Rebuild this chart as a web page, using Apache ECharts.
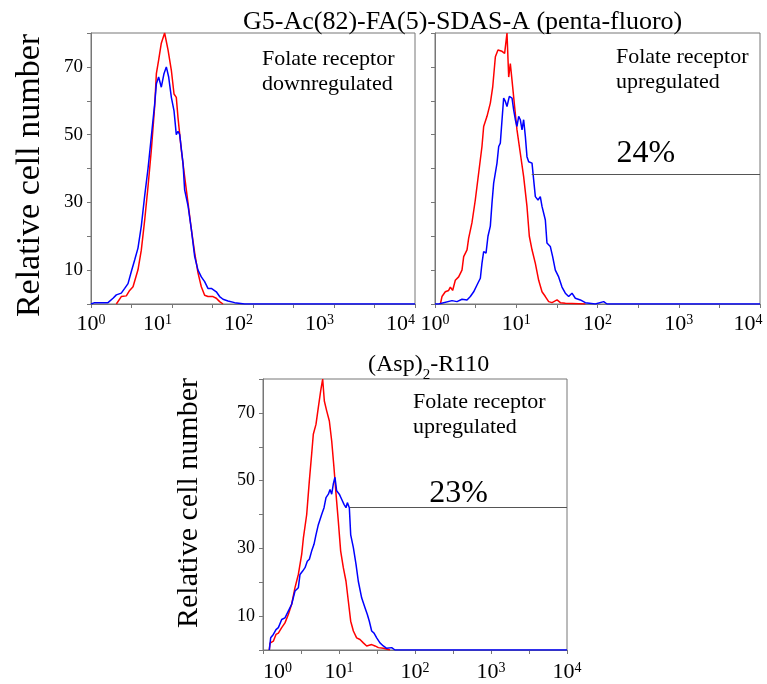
<!DOCTYPE html>
<html>
<head>
<meta charset="utf-8">
<title>Flow cytometry histograms</title>
<script src="https://cdn.jsdelivr.net/npm/echarts@6/dist/echarts.min.js"></script>
<style>
  html, body { margin: 0; padding: 0; background: #fff; }
  #chart { width: 767px; height: 684px; }
</style>
</head>
<body>
<div id="chart"></div>
<script>
// Histograms of log10 fluorescence intensity (x, decades) versus relative cell number (y).
// Red: control cells, blue: cells treated with the conjugate.

// Axis ticks
const decadeTicks = [0, 1, 2, 3, 4];
const countTickLabels = [10, 30, 50, 70];

// Panel 1: G5-Ac(82)-FA(5)-SDAS-A, folate receptor downregulated
const p1RedX = [0.313,0.374,0.436,0.477,0.519,0.580,0.621,0.663,0.704,0.745,0.786,0.807,0.835,0.868,0.909,0.930,0.951,0.992,1.025,1.053,1.074,1.115,1.156,1.198,1.239,1.280,1.321,1.362,1.403,1.444,1.506,1.547,1.588,1.630];
const p1RedY = [0,2.2,2.4,4,5.1,10.1,15.9,24.8,34.7,45.5,58.3,68,72,77,80,79.5,75,69,62,61,55,45.5,37.6,29.8,22,15.1,9.2,5.1,2.6,2.2,2.2,1.7,0.7,0];
const p1BlueX = [0,0.045,0.210,0.272,0.313,0.374,0.416,0.457,0.498,0.539,0.580,0.621,0.663,0.704,0.745,0.786,0.807,0.835,0.868,0.901,0.930,0.959,0.992,1.025,1.053,1.074,1.095,1.136,1.156,1.198,1.239,1.280,1.321,1.362,1.403,1.444,1.486,1.547,1.588,1.630,1.691,1.774,1.897,4];
const p1BlueY = [0,0.4,0.4,1.7,2.7,3.2,4.6,6,9.6,13,16.5,23,32,40,49.5,59,65,67,64,68,70,67,61,57,50,51,50,41.5,33.7,29,22,14,10,8,6.6,4.6,4.6,3.6,2.2,1.4,0.9,0.4,0,0];

// Panel 2: G5-Ac(82)-FA(5)-SDAS-A, folate receptor upregulated
const p2RedX = [0.066,0.086,0.127,0.168,0.189,0.217,0.250,0.291,0.332,0.353,0.394,0.414,0.455,0.496,0.537,0.578,0.599,0.640,0.681,0.710,0.743,0.775,0.825,0.857,0.886,0.907,0.927,0.948,0.981,1.009,1.050,1.091,1.132,1.161,1.194,1.235,1.276,1.317,1.358,1.399,1.440,1.502,1.543,1.604,1.850];
const p2RedY = [0,2.2,3.6,4,5,4,7,8,10,14,16,19.4,24,30.7,38.6,46.5,52.4,55.4,59.3,64,73,75,74.6,74,80,67,71,66,58,51.4,44.5,37.6,28.8,20,16,12,7,3.6,2.2,0.7,0.4,1.2,0.4,0.2,0];
const p2BlueX = [0,0.045,0.209,0.271,0.332,0.394,0.435,0.476,0.517,0.558,0.578,0.599,0.628,0.652,0.681,0.702,0.722,0.763,0.784,0.804,0.825,0.845,0.866,0.886,0.915,0.948,0.968,0.989,1.009,1.030,1.050,1.071,1.091,1.112,1.132,1.153,1.194,1.214,1.235,1.268,1.296,1.317,1.358,1.378,1.419,1.448,1.481,1.522,1.563,1.604,1.645,1.686,1.727,1.789,1.850,1.973,2.076,2.117,4];
const p2BlueY = [0,0,1,0.7,1.4,1.2,2.2,3.6,5.6,7.6,12,15.5,15,20,23,30,35.7,41.6,46.5,47.5,54.4,60.8,59.8,58.3,61.3,60.8,57.3,54.4,52.4,55.4,54.4,51.4,54.4,49.5,43.5,42,41.6,36.7,31.7,30.7,31.7,28.8,24.8,18,17,14,10,8,5,3.2,2.2,3.2,1.7,1.2,0.4,0,0.7,0,0];

// Panel 3: (Asp)2-R110, folate receptor upregulated
const p3RedX = [0.083,0.092,0.136,0.171,0.202,0.246,0.289,0.333,0.377,0.421,0.465,0.509,0.531,0.575,0.610,0.640,0.662,0.697,0.728,0.759,0.785,0.807,0.838,0.873,0.904,0.934,0.961,0.991,1.022,1.057,1.092,1.123,1.154,1.189,1.232,1.276,1.320,1.364,1.430,1.474,1.518,1.583,1.671];
const p3RedY = [0,2,2.6,4.6,5,6.6,8,10.5,13.5,18.4,22.3,28.2,33,40,50,57.8,63.7,66.6,71.6,76.5,80,73.5,70.6,67.6,61.7,53.8,46,38,29.2,24.3,20.3,14.4,8.5,5.6,3.6,3.1,2.1,1.2,1.6,1.2,0.7,0.5,0];
const p3BlueX = [0.083,0.101,0.136,0.171,0.202,0.246,0.289,0.333,0.377,0.421,0.465,0.487,0.522,0.553,0.583,0.610,0.640,0.671,0.697,0.728,0.750,0.772,0.803,0.829,0.860,0.882,0.904,0.925,0.947,0.969,1.004,1.035,1.066,1.092,1.110,1.136,1.154,1.189,1.224,1.254,1.298,1.342,1.373,1.399,1.430,1.461,1.496,1.539,1.583,1.627,1.693,1.737,4];
const p3BlueY = [0,3.6,4.6,6,6.6,9,9.5,11.5,13.5,17.4,18.4,22.3,23.3,24.3,26.2,26.8,29.2,31.2,34,37,36.6,40,42,45,46,47.4,46,49,51,47,46,44.5,43,42,43.5,42,34,30.2,25.3,20.3,15.4,12.5,10.5,8.5,5.6,5,3.6,2.1,1.2,0.5,0.7,0,0];

// Positive gates (panels 2 and 3): start (log10 intensity), level, percentage of cells
const gateStartX = [1.19, 1.145];
const gateLevel = [38.4, 42];
const gatePercent = ['24%', '23%'];

const FONT = '"Liberation Serif", "Times New Roman", serif';
const FRAME = '#777';
const RED = '#ff0000';
const BLUE = '#0000ff';

function pairs(xs, ys) { return xs.map((x, i) => [x, ys[i]]); }

const richX = {
  b:  { fontFamily: FONT, fontSize: 22, lineHeight: 22, verticalAlign: 'top', color: '#000' },
  bl: { fontFamily: FONT, fontSize: 22, lineHeight: 22, verticalAlign: 'top', color: '#000', padding: [0, 0, 0, 29] },
  s:  { fontFamily: FONT, fontSize: 14, lineHeight: 10, verticalAlign: 'top', color: '#000' },
  sr: { fontFamily: FONT, fontSize: 14, lineHeight: 10, verticalAlign: 'top', color: '#000', padding: [0, 29, 0, 0] },
  sq: { fontFamily: FONT, fontSize: 14, lineHeight: 10, verticalAlign: 'top', color: '#000', padding: [0, 24, 0, 0] }
};

// decade label builders: "10" with the exponent raised
function decadeLabel(style) {
  return function (v) {
    if (!decadeTicks.includes(v)) return '';
    return style(v);
  };
}
const labelP1 = decadeLabel(v => v === 0 ? '{b|10}{s|0}' : '{b|10}{sr|' + v + '}');
const labelP2 = decadeLabel(v => v === 4 ? '{b|10}{sq|4}' : '{b|10}{s|' + v + '}');
const labelP3 = decadeLabel(v => v === 0 ? '{bl|10}{s|0}' : '{b|10}{s|' + v + '}');

function xAxisFor(gridIndex, formatter, margin) {
  return {
    type: 'value', gridIndex, min: 0, max: 4, interval: 0.5,
    axisLine: { show: true, lineStyle: { color: FRAME, width: 1 } },
    axisTick: { show: true, inside: false, length: 4, lineStyle: { color: FRAME } },
    splitLine: { show: false },
    axisLabel: { margin, formatter, rich: richX, color: '#000', fontFamily: FONT }
  };
}

function yAxisFor(gridIndex, opts) {
  const ax = {
    type: 'value', gridIndex, min: 0, max: 80, interval: 10,
    axisLine: { show: true, lineStyle: { color: FRAME, width: 1 } },
    axisTick: { show: true, inside: false, length: 4, lineStyle: { color: FRAME } },
    splitLine: { show: false },
    axisLabel: {
      show: opts.labels, margin: 8, fontFamily: FONT, fontSize: opts.labelSize || 19, color: '#000',
      formatter: v => countTickLabels.includes(v) ? String(v) : ''
    }
  };
  if (opts.name) {
    ax.name = 'Relative cell number';
    ax.nameLocation = 'middle';
    ax.nameRotate = 90;
    ax.nameGap = opts.nameGap;
    ax.nameTextStyle = { fontFamily: FONT, fontSize: opts.nameSize, color: '#000', padding: opts.namePad };
  }
  return ax;
}

function histogram(xs, ys, color, idx, extra) {
  return Object.assign({
    type: 'line', xAxisIndex: idx, yAxisIndex: idx,
    data: pairs(xs, ys), symbol: 'none', smooth: false,
    lineStyle: { color, width: 1.5 }, itemStyle: { color },
    silent: true
  }, extra || {});
}

function gate(i, distance) {
  return {
    silent: true, symbol: ['none', 'none'], animation: false,
    lineStyle: { color: '#555', width: 1, type: 'solid' },
    label: {
      show: true, position: 'middle', formatter: gatePercent[i], distance,
      fontFamily: FONT, fontSize: 32, color: '#000'
    },
    emphasis: { disabled: true },
    data: [[{ coord: [gateStartX[i], gateLevel[i]] }, { coord: [4, gateLevel[i]] }]]
  };
}

const annotationStyle = { fontFamily: FONT, fontSize: 22, lineHeight: 25, fontWeight: 'normal', color: '#000' };

function panelGrid(left, top, width) {
  return {
    left, top, width, height: 271, outerBoundsMode: 'none', containLabel: false,
    show: true, borderColor: FRAME, borderWidth: 1, backgroundColor: 'transparent'
  };
}

const option = {
  animation: false,
  backgroundColor: '#fff',
  title: [
    { text: 'G5-Ac(82)-FA(5)-SDAS-A (penta-fluoro)', left: 243, top: 9, padding: 0,
      textStyle: { fontFamily: FONT, fontSize: 26, lineHeight: 26, fontWeight: 'normal', color: '#000' } },
    { text: '{a|(Asp)}{sub|2}{a|-R110}', left: 368, top: 353, padding: 0,
      textStyle: { fontWeight: 'normal', rich: {
        a: { fontFamily: FONT, fontSize: 24, lineHeight: 24, fontWeight: 'normal', verticalAlign: 'top', color: '#000' },
        sub: { fontFamily: FONT, fontSize: 15, lineHeight: 30, fontWeight: 'normal', verticalAlign: 'bottom', color: '#000' }
      } } },
    { text: 'Folate receptor\ndownregulated', left: 262, top: 47, padding: 0, textStyle: annotationStyle },
    { text: 'Folate receptor\nupregulated', left: 616, top: 45, padding: 0, textStyle: annotationStyle },
    { text: 'Folate receptor\nupregulated', left: 413, top: 390, padding: 0, textStyle: annotationStyle }
  ],
  grid: [
    panelGrid(91, 33, 324),
    panelGrid(435, 33, 325),
    panelGrid(263, 379, 304)
  ],
  xAxis: [
    xAxisFor(0, labelP1, 9),
    xAxisFor(1, labelP2, 9),
    xAxisFor(2, labelP3, 11)
  ],
  yAxis: [
    yAxisFor(0, { labels: true, name: true, nameGap: 44, nameSize: 34, namePad: [0, 14, 0, 0] }),
    yAxisFor(1, { labels: false }),
    yAxisFor(2, { labels: true, labelSize: 18, name: true, nameGap: 59, nameSize: 30, namePad: [0, 0, 0, 23] })
  ],
  series: [
    histogram(p1RedX, p1RedY, RED, 0),
    histogram(p1BlueX, p1BlueY, BLUE, 0),
    histogram(p2RedX, p2RedY, RED, 1),
    histogram(p2BlueX, p2BlueY, BLUE, 1, { markLine: gate(0, 4) }),
    histogram(p3RedX, p3RedY, RED, 2),
    histogram(p3BlueX, p3BlueY, BLUE, 2, { markLine: gate(1, -2) })
  ]
};

const chart = echarts.init(document.getElementById('chart'), null, { renderer: 'canvas' });
chart.setOption(option);
</script>
</body>
</html>
